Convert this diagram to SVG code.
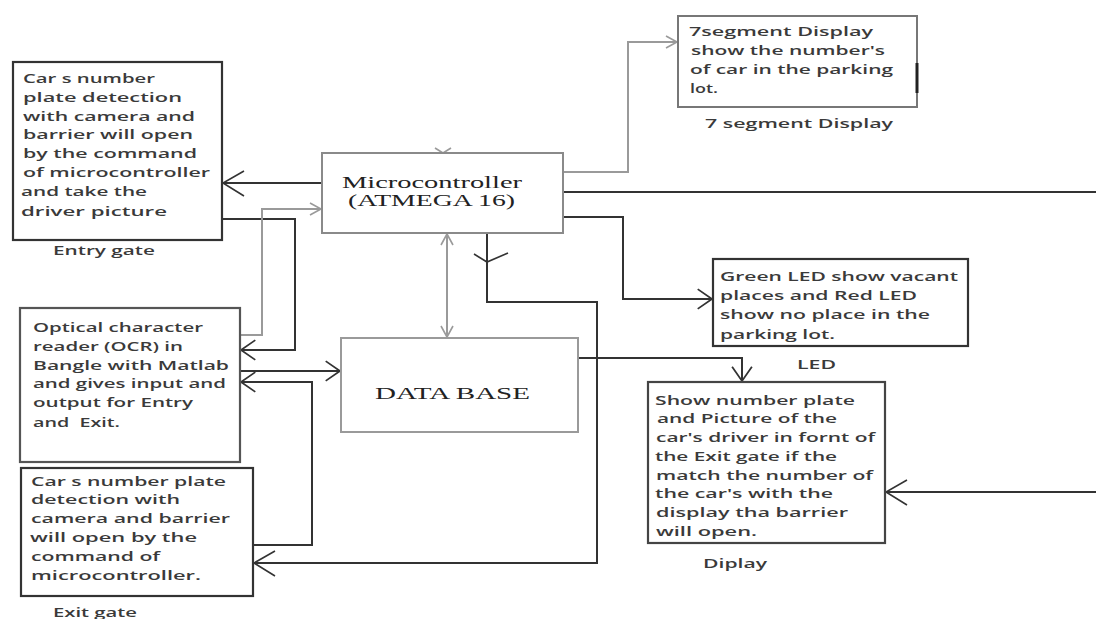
<svg xmlns="http://www.w3.org/2000/svg" width="1096" height="619" viewBox="0 0 1096 619">
<style>
.bg{fill:#ffffff}
.box{fill:#ffffff;stroke:#333;stroke-width:2.2}
.boxg{fill:#ffffff;stroke:#8a8a8a;stroke-width:2}
.t{font-family:"Open Sans","Liberation Sans",Arial,sans-serif;font-weight:600;font-size:13px;fill:#3a3a3a;}
.lbl{font-family:"Open Sans","Liberation Sans",Arial,sans-serif;font-weight:600;font-size:13px;fill:#3a3a3a;}
.s{font-family:"Liberation Serif","Times New Roman",serif;font-size:16px;fill:#222;}
.cd{fill:none;stroke:#333;stroke-width:2}
.cg{fill:none;stroke:#9a9a9a;stroke-width:2}
.tick{fill:none;stroke:#333;stroke-width:1.6}
.tickg{fill:none;stroke:#9a9a9a;stroke-width:1.6}
</style>
<defs>
<marker id="arrD" markerUnits="userSpaceOnUse" markerWidth="20" markerHeight="22" viewBox="-15 -10 17 20" refX="0" refY="0" orient="auto" overflow="visible">
<path d="M-13,-9 L0,0 L-13,9" fill="none" stroke="#333" stroke-width="1.6"/>
</marker>
<marker id="arrDL" markerUnits="userSpaceOnUse" markerWidth="26" markerHeight="30" viewBox="-24 -15 26 30" refX="0" refY="0" orient="auto" overflow="visible">
<path d="M-21,-13 L0,0 L-21,12" fill="none" stroke="#333" stroke-width="1.6"/>
</marker>
<marker id="arrG" markerUnits="userSpaceOnUse" markerWidth="16" markerHeight="16" viewBox="-13 -8 15 16" refX="0" refY="0" orient="auto-start-reverse" overflow="visible">
<path d="M-11,-6 L0,0 L-11,6" fill="none" stroke="#9a9a9a" stroke-width="1.6"/>
</marker>
</defs>
<rect class="bg" x="0" y="0" width="1096" height="619"/>

<g id="connectors">
<path class="cd" d="M322,183 H223" marker-end="url(#arrDL)"/>
<path class="cd" d="M222,219 H295 V350 H241" marker-end="url(#arrD)"/>
<path class="cg" d="M241,335 H262 V209 H321" marker-end="url(#arrG)"/>
<path class="cg" d="M563,172 H628 V42 H677" marker-end="url(#arrG)"/>
<path class="cd" d="M563,192 H1096"/>
<path class="cd" d="M563,217 H623 V299 H712" marker-end="url(#arrD)"/>
<path class="cg" d="M447,234 V337" marker-start="url(#arrG)" marker-end="url(#arrG)"/>
<path class="cd" d="M487,233 V302 H597 V563 H254" marker-end="url(#arrDL)"/>
<polyline class="tick" points="474,254 487,262 508,253"/>
<path class="cd" d="M241,371 H340" marker-end="url(#arrD)"/>
<path class="cd" d="M578,358 H742 V381" marker-end="url(#arrD)"/>
<path class="cd" d="M1096,492 H886" marker-end="url(#arrDL)"/>
<path class="cd" d="M253,545 H312 V382 H241" marker-end="url(#arrD)"/>
<polyline class="tickg" points="435,148 443,153 451,148"/>
</g>

<g id="entry-gate">
<rect class="box" x="13" y="62" width="209" height="178"/>
<text class="t" x="23" y="83" textLength="132" lengthAdjust="spacingAndGlyphs">Car s number</text>
<text class="t" x="23" y="102" textLength="159" lengthAdjust="spacingAndGlyphs">plate detection</text>
<text class="t" x="23" y="121" textLength="172" lengthAdjust="spacingAndGlyphs">with camera and</text>
<text class="t" x="23" y="139" textLength="170" lengthAdjust="spacingAndGlyphs">barrier will open</text>
<text class="t" x="23" y="158" textLength="174" lengthAdjust="spacingAndGlyphs">by the command</text>
<text class="t" x="23" y="177" textLength="187" lengthAdjust="spacingAndGlyphs">of microcontroller</text>
<text class="t" x="21" y="196" textLength="126" lengthAdjust="spacingAndGlyphs">and take the</text>
<text class="t" x="21" y="216" textLength="146" lengthAdjust="spacingAndGlyphs">driver picture</text>
<text class="lbl" x="53" y="255" textLength="102" lengthAdjust="spacingAndGlyphs">Entry gate</text>
</g>

<g id="microcontroller">
<rect class="boxg" x="322" y="153" width="241" height="80"/>
<text class="s" x="342" y="188" textLength="180" lengthAdjust="spacingAndGlyphs">Microcontroller</text>
<text class="s" x="348" y="206" textLength="167" lengthAdjust="spacingAndGlyphs">(ATMEGA 16)</text>
</g>

<g id="seven-segment">
<rect class="boxg" x="678" y="16" width="239" height="91" style="stroke:#777"/>
<line x1="917" y1="63" x2="917" y2="93" stroke="#222" stroke-width="3"/>
<text class="t" x="689" y="36" textLength="184" lengthAdjust="spacingAndGlyphs">7segment Display</text>
<text class="t" x="691" y="55" textLength="194" lengthAdjust="spacingAndGlyphs">show the number's</text>
<text class="t" x="690" y="74" textLength="203" lengthAdjust="spacingAndGlyphs">of car in the parking</text>
<text class="t" x="690" y="93" textLength="28" lengthAdjust="spacingAndGlyphs">lot.</text>
<text class="lbl" x="705" y="128" textLength="188" lengthAdjust="spacingAndGlyphs">7 segment Display</text>
</g>

<g id="led">
<rect class="box" x="713" y="259" width="255" height="87"/>
<text class="t" x="720" y="281" textLength="238" lengthAdjust="spacingAndGlyphs">Green LED show vacant</text>
<text class="t" x="720" y="300" textLength="197" lengthAdjust="spacingAndGlyphs">places and Red LED</text>
<text class="t" x="720" y="319" textLength="210" lengthAdjust="spacingAndGlyphs">show no place in the</text>
<text class="t" x="720" y="339" textLength="115" lengthAdjust="spacingAndGlyphs">parking lot.</text>
<text class="lbl" x="797" y="369" textLength="39" lengthAdjust="spacingAndGlyphs">LED</text>
</g>

<g id="ocr">
<rect class="box" x="20" y="308" width="220" height="154" style="stroke:#555"/>
<text class="t" x="33" y="332" textLength="170" lengthAdjust="spacingAndGlyphs">Optical character</text>
<text class="t" x="33" y="351" textLength="150" lengthAdjust="spacingAndGlyphs">reader (OCR) in</text>
<text class="t" x="33" y="370" textLength="196" lengthAdjust="spacingAndGlyphs">Bangle with Matlab</text>
<text class="t" x="33" y="388" textLength="193" lengthAdjust="spacingAndGlyphs">and gives input and</text>
<text class="t" x="33" y="407" textLength="160" lengthAdjust="spacingAndGlyphs">output for Entry</text>
<text class="t" x="33" y="427" textLength="87" lengthAdjust="spacingAndGlyphs">and&#160; Exit.</text>
</g>

<g id="database">
<rect class="boxg" x="341" y="338" width="237" height="94" style="stroke:#9a9a9a"/>
<text class="s" x="375" y="399" textLength="155" lengthAdjust="spacingAndGlyphs">DATA BASE</text>
</g>

<g id="exit-gate">
<rect class="box" x="21" y="468" width="232" height="128"/>
<text class="t" x="31" y="486" textLength="195" lengthAdjust="spacingAndGlyphs">Car s number plate</text>
<text class="t" x="31" y="504" textLength="149" lengthAdjust="spacingAndGlyphs">detection with</text>
<text class="t" x="31" y="523" textLength="199" lengthAdjust="spacingAndGlyphs">camera and barrier</text>
<text class="t" x="30" y="542" textLength="167" lengthAdjust="spacingAndGlyphs">will open by the</text>
<text class="t" x="31" y="561" textLength="129" lengthAdjust="spacingAndGlyphs">command of</text>
<text class="t" x="31" y="580" textLength="170" lengthAdjust="spacingAndGlyphs">microcontroller.</text>
<text class="lbl" x="53" y="617" textLength="84" lengthAdjust="spacingAndGlyphs">Exit gate</text>
</g>

<g id="display">
<rect class="box" x="648" y="382" width="237" height="161" style="stroke:#444"/>
<text class="t" x="655" y="405" textLength="200" lengthAdjust="spacingAndGlyphs">Show number plate</text>
<text class="t" x="657" y="423" textLength="180" lengthAdjust="spacingAndGlyphs">and Picture of the</text>
<text class="t" x="656" y="442" textLength="219" lengthAdjust="spacingAndGlyphs">car's driver in fornt of</text>
<text class="t" x="655" y="461" textLength="182" lengthAdjust="spacingAndGlyphs">the Exit gate if the</text>
<text class="t" x="656" y="480" textLength="217" lengthAdjust="spacingAndGlyphs">match the number of</text>
<text class="t" x="655" y="498" textLength="178" lengthAdjust="spacingAndGlyphs">the car's with the</text>
<text class="t" x="656" y="517" textLength="192" lengthAdjust="spacingAndGlyphs">display tha barrier</text>
<text class="t" x="656" y="536" textLength="101" lengthAdjust="spacingAndGlyphs">will open.</text>
<text class="lbl" x="703" y="568" textLength="64" lengthAdjust="spacingAndGlyphs">Diplay</text>
</g>
</svg>
